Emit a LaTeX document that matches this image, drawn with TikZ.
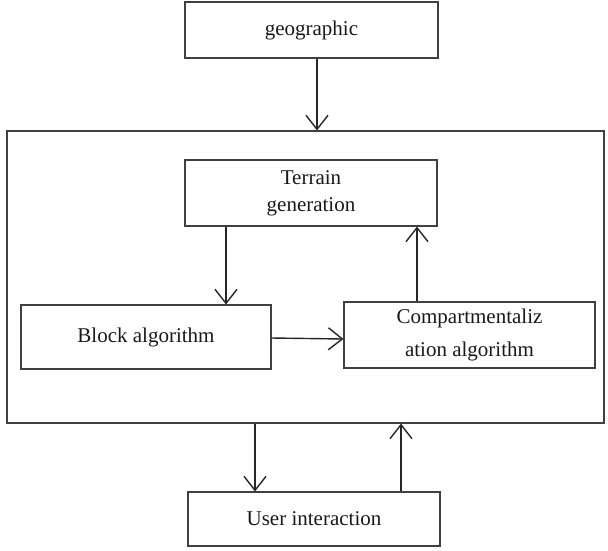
\documentclass[tikz,border=0pt]{standalone}
\usepackage{fontspec}
\setmainfont{Liberation Serif}
\usetikzlibrary{arrows.meta}
\begin{document}
\begin{tikzpicture}[x=1pt,y=-1pt,
 box/.style={draw=black!75, line width=1.1pt, inner sep=0pt, font=\fontsize{21}{27}\selectfont, align=center, text=black!90},
 conn/.style={line width=1.4pt, draw=black!85, -{Straight Barb[length=14pt,width=22pt,line width=1.4pt]}}]
\useasboundingbox (0,0) rectangle (608,550);
\node[box, minimum width=597pt, minimum height=292pt] (main) at (305.5,277) {};
\node[box, minimum width=253pt, minimum height=56pt] (geo) at (311.5,30) {geographic};
\node[box, minimum width=252pt, minimum height=66pt] (terrain) at (311,193) {Terrain\\generation};
\node[box, minimum width=250pt, minimum height=64pt] (block) at (146,337) {Block algorithm};
\node[box, minimum width=251pt, minimum height=66pt] (comp) at (469.5,335) {Compartmentaliz\\[6pt]ation algorithm};
\node[box, minimum width=252pt, minimum height=54pt] (user) at (314,519) {User interaction};
\coordinate (xa) at (317,0);
\coordinate (xb) at (226,0);
\coordinate (xc) at (417,0);
\coordinate (xd) at (255,0);
\coordinate (xe) at (401,0);
\draw[conn] (geo.south -| xa) -- (main.north -| xa);
\draw[conn] (terrain.south -| xb) -- (block.north -| xb);
\draw[conn] (comp.north -| xc) -- (terrain.south -| xc);
\draw[conn] ([yshift=-1pt]block.east) -- ([yshift=-4pt]comp.west);
\draw[conn] (main.south -| xd) -- (user.north -| xd);
\draw[conn] (user.north -| xe) -- (main.south -| xe);
\end{tikzpicture}
\end{document}
